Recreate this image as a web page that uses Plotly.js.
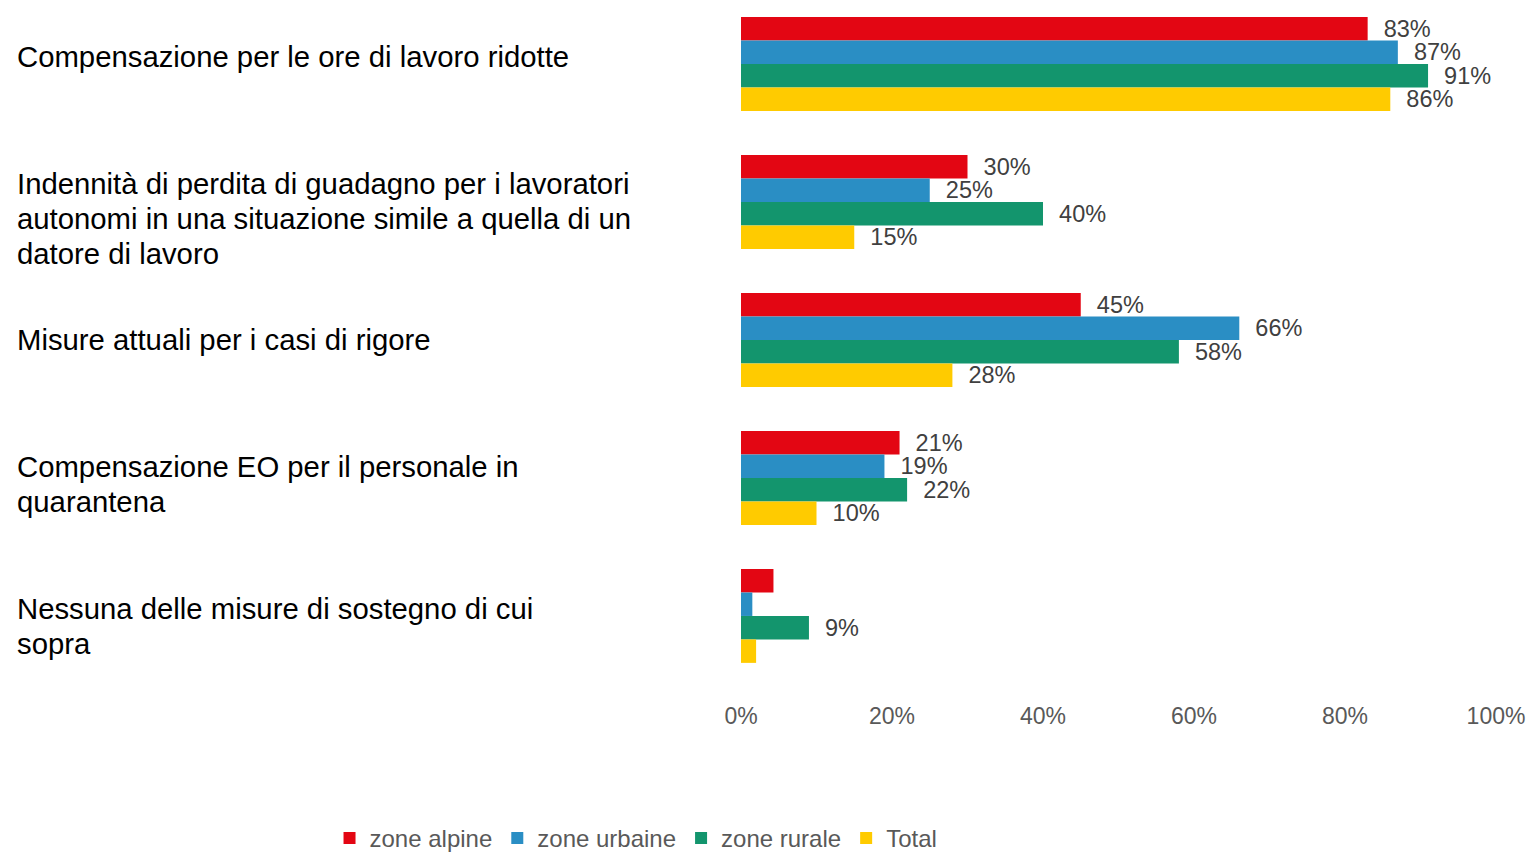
<!DOCTYPE html>
<html>
<head>
<meta charset="utf-8">
<script src="https://cdn.plot.ly/plotly-3.0.1.min.js"></script>
<style>html,body{margin:0;padding:0;background:#fff;}#chart{width:1530px;height:852px;}</style>
</head>
<body>
<div id="chart"></div>
<script>
const categories = [
  "Compensazione per le ore di lavoro ridotte",
  "Indennità di perdita di guadagno per i lavoratori<br>autonomi in una situazione simile a quella di un<br>datore di lavoro",
  "Misure attuali per i casi di rigore",
  "Compensazione EO per il personale in<br>quarantena",
  "Nessuna delle misure di sostegno di cui<br>sopra"
];
const seriesNames = ["zone alpine", "zone urbaine", "zone rurale", "Total"];
const zoneAlpine  = [83, 30, 45, 21, 4.3];
const zoneUrbaine = [87, 25, 66, 19, 1.5];
const zoneRurale  = [91, 40, 58, 22, 9];
const total       = [86, 15, 28, 10, 2];
const tickVals = [0, 20, 40, 60, 80, 100];
const tickText = ["0%", "20%", "40%", "60%", "80%", "100%"];

const colors = ["#E30613", "#2A8EC4", "#13956D", "#FFCB00"];
// vertical offset (px) of the first label line from the group centre, and line spacing
const firstLineOffset = [-7, -18, 0, -11, -7.4];
const lineSpacing = 35;

const seriesData = [zoneAlpine, zoneUrbaine, zoneRurale, total];
const idx = categories.map((_, i) => i);
const traces = seriesData.map((vals, k) => ({
  type: "bar",
  orientation: "h",
  name: seriesNames[k],
  x: vals,
  y: idx,
  text: vals.map(v => v >= 5 ? "\u00a0\u00a0" + Math.round(v) + "%" : ""),
  textposition: "outside",
  constraintext: "none",
  cliponaxis: false,
  textfont: {family: "Liberation Sans, Arial, sans-serif", size: 23.5, color: "#404040"},
  marker: {color: colors[k]},
  hoverinfo: "none"
}));

const annotations = [];
categories.forEach((c, i) => {
  c.split("<br>").forEach((line, j) => {
    annotations.push({
      xref: "paper", yref: "y",
      x: -0.9616, y: i,
      xanchor: "left", yanchor: "middle",
      align: "left",
      showarrow: false,
      yshift: -(firstLineOffset[i] + j * lineSpacing),
      text: line,
      font: {family: "Liberation Sans, Arial, sans-serif", size: 29.3, color: "#000000"}
    });
  });
});

const layout = {
  width: 1530, height: 852,
  margin: {l: 741, r: 34, t: 10, b: 152},
  paper_bgcolor: "#ffffff",
  plot_bgcolor: "#ffffff",
  barmode: "group",
  bargap: 0.32,
  bargroupgap: 0,
  showlegend: true,
  xaxis: {
    range: [0, 100],
    tickvals: tickVals,
    ticktext: tickText,
    showgrid: false,
    zeroline: false,
    showline: false,
    ticks: "",
    tickfont: {family: "Liberation Sans, Arial, sans-serif", size: 23, color: "#595959"}
  },
  yaxis: {
    range: [4.609, -0.391],
    showticklabels: false,
    showgrid: false,
    zeroline: false,
    showline: false,
    ticks: ""
  },
  legend: {
    orientation: "h",
    x: -0.545, xanchor: "left",
    yref: "container",
    y: 0.016, yanchor: "middle",
    font: {family: "Liberation Sans, Arial, sans-serif", size: 24, color: "#595959"},
    itemwidth: 30,
    traceorder: "normal"
  },
  annotations: annotations
};

Plotly.newPlot("chart", traces, layout, {displayModeBar: false, staticPlot: true});
</script>
</body>
</html>
